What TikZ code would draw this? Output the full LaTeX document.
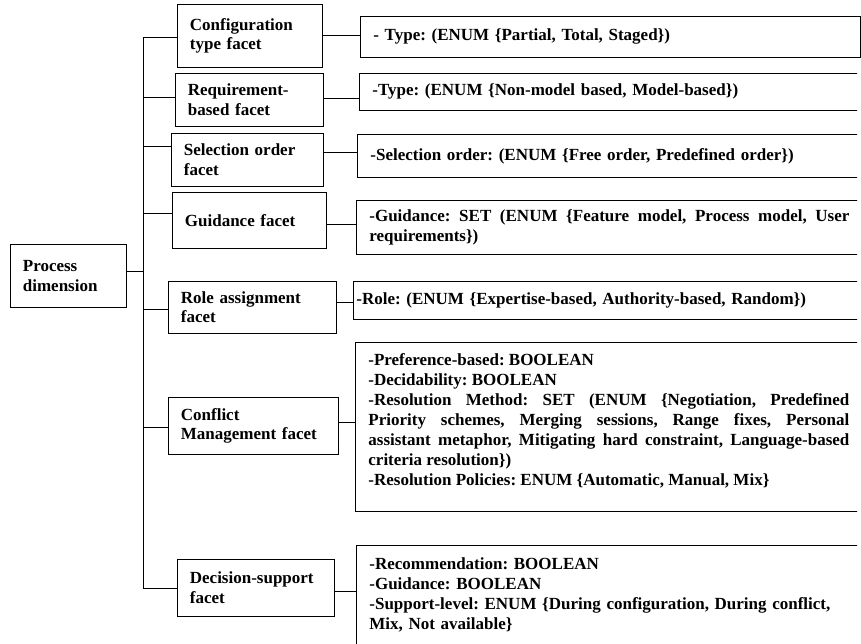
\documentclass[tikz,border=0pt]{standalone}
\usepackage{fontspec}
\setmainfont{Liberation Serif}
\frenchspacing
\hyphenpenalty=10000 \exhyphenpenalty=10000
\tikzset{
 facet/.style={draw,line width=0.8pt,anchor=north west,inner xsep=12.5pt,inner ysep=2pt,align=left,font=\fontsize{17}{19.5}\selectfont\bfseries},
 detail/.style={draw,line width=0.8pt,anchor=north west,inner xsep=13pt,inner ysep=2pt,align=left,font=\fontsize{17}{20}\selectfont\bfseries},
 link/.style={line width=0.8pt}
}

\begin{document}
\begin{tikzpicture}[x=1pt,y=-1pt]
 \useasboundingbox (0,0) rectangle (861,643);
 \node[facet,text width=91pt,minimum height=63pt] (proc) at (10,244) {Process\\dimension}; %左の箱
 \node[facet,text width=120pt,minimum height=63pt] (f1) at (177,4) {Configuration\\type facet};
 \node[facet,text width=123pt,minimum height=53pt] (f2) at (175,73) {Requirement-\\based facet};
 \node[facet,text width=127pt,minimum height=53pt] (f3) at (171,133) {Selection order\\facet};
 \node[facet,text width=129pt,minimum height=56pt] (f4) at (172,192) {Guidance facet};
 \node[facet,text width=143pt,minimum height=52pt] (f5) at (168,281) {Role assignment\\facet};
 \node[facet,text width=145pt,minimum height=57pt] (f6) at (168,397) {Conflict\\Management facet};
 \node[facet,text width=132pt,minimum height=57pt] (f7) at (177,559) {Decision-support\\facet};
 \node[detail,text width=474pt,minimum height=41pt] (d1) at (360,16) {- Type: (ENUM \{Partial, Total, Staged\})}; %右の箱
 \begin{scope}
 \clip (0,0) rectangle (857,650); %右端で切る
 \node[detail,text width=500pt,minimum height=37pt] (d2) at (359,73) {-Type: (ENUM \{Non-model based, Model-based\})};
 \node[detail,text width=500pt,minimum height=43pt] (d3) at (357,134) {-Selection order: (ENUM \{Free order, Predefined order\})};
 \node[detail,align=justify,text width=480pt,minimum height=54pt] (d4) at (356,200) {-Guidance: SET (ENUM \{Feature model, Process model, User\linebreak requirements\})};
 \node[detail,inner xsep=3pt,text width=500pt,minimum height=38pt] (d5) at (353,281) {-Role: (ENUM \{Expertise-based, Authority-based, Random\})};
 \node[detail,align=justify,text width=481pt,minimum height=169pt] (d6) at (355,342) {-Preference-based: BOOLEAN\\
  -Decidability: BOOLEAN\\
  -Resolution Method: SET (ENUM \{Negotiation, Predefined\linebreak
  Priority schemes, Merging sessions, Range fixes, Personal\linebreak
  assistant metaphor, Mitigating hard constraint, Language-based\linebreak
  criteria resolution\})\\
  -Resolution Policies: ENUM \{Automatic, Manual, Mix\}\rule[-14pt]{0pt}{0pt}};
 \node[detail,text width=500pt,minimum height=100pt] (d7) at (356,545) {-Recommendation: BOOLEAN\\
  -Guidance: BOOLEAN\\
  -Support-level: ENUM \{During configuration, During conflict,\\
  Mix, Not available\}};
 \end{scope}
 \coordinate (trunk) at (143,271); %縦線
 \draw[link] (proc.east |- trunk) -- (trunk);
 \foreach \i/\dy in {1/-1.5,2/2.5,3/13.5,4/7,5/-2,6/-1.5,7/-0.5}{
  \path ([yshift=\dy pt]f\i.west) coordinate (b\i);
  \draw[link] (b\i) -- (b\i -| trunk);
 }
 \draw[link] (b1 -| trunk) -- (b7 -| trunk);
 \foreach \i/\dy in {1/0.5,2/1.5,3/7.5,4/-4,5/5,6/3.5,7/-3.5}{
  \path ([yshift=\dy pt]f\i.east) coordinate (c\i);
  \draw[link] (c\i) -- (c\i -| d\i.west);
 }
\end{tikzpicture}
\end{document}
